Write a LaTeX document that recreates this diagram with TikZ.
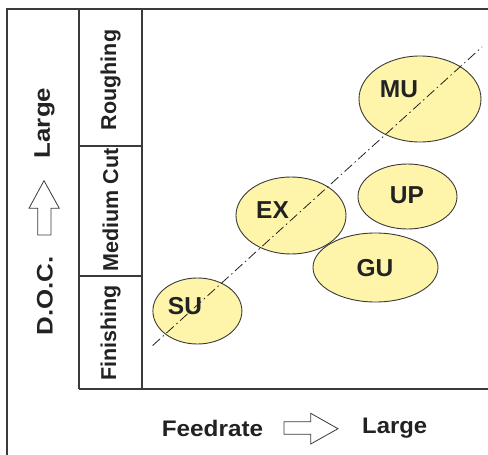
\documentclass[tikz,border=0pt]{standalone}
\usepackage{fontspec}
\setmainfont{Liberation Sans}
\usetikzlibrary{shapes.geometric}
\definecolor{framegray}{HTML}{3A3A3A}
\definecolor{ellfill}{HTML}{FFF5AA}
\definecolor{txtdark}{HTML}{222222}
\tikzset{
  frameline/.style={draw=framegray, line width=1.3pt},
  zone/.style={draw=framegray, line width=0.9pt, fill=ellfill, ellipse, inner sep=0pt},
  elltext/.style={font=\fontsize{24.5}{24.5}\selectfont\bfseries, text=txtdark, inner sep=0pt},
  axtext/.style={font=\fontsize{21.5}{21.5}\selectfont\bfseries, text=txtdark, inner sep=0pt},
  bigtext/.style={font=\fontsize{22.5}{22.5}\selectfont\bfseries, text=txtdark, inner sep=0pt},
  hollowarrow/.style={draw=framegray, line width=0.8pt, fill=white},
  trend/.style={draw=txtdark, line width=0.8pt, dash pattern=on 10pt off 3.5pt on 1.5pt off 3.5pt}
}
\begin{document}
\begin{tikzpicture}[x=1pt,y=-1pt]
\useasboundingbox (0,0) rectangle (488,455);
% frame
\draw[frameline] (7,455) -- (7,9) -- (488,9);
\draw[frameline] (79,9) -- (79,389);
\draw[frameline] (142,9) -- (142,389);
\draw[frameline] (79,146) -- (142,146);
\draw[frameline] (79,276) -- (142,276);
\draw[frameline] (79,389) -- (488,389);
% zone labels
\node[axtext, rotate=90] (rough) at (110.5,80) {Roughing};
\node[axtext, rotate=90] (medium) at (110.5,210) {Medium Cut};
\node[axtext, rotate=90] (finish) at (110.5,333) {Finishing};
% DOC axis
\node[bigtext, rotate=90] (doc) at (45,296) {\scalebox{1.15}[1]{D.O.C.}};
\node[bigtext, rotate=90] (large1) at (44.5,123) {\scalebox{1.15}[1]{Large}};
\draw[hollowarrow] (37.7,235) -- (37.7,208.3) -- (29,208.3) -- (44,180.7) -- (59.3,208.3) -- (51,208.3) -- (51,235) -- cycle;
% Feedrate axis
\node[bigtext] (feed) at (212.5,428) {\scalebox{1.08}[1]{Feedrate}};
\node[bigtext] (large2) at (394.7,428) {\scalebox{1.06}[1]{Large}};
\draw[hollowarrow] (284,421.7) -- (310.7,421.7) -- (310.7,413.3) -- (338,428.7) -- (310.7,444) -- (310.7,434.3) -- (284,434.3) -- cycle;
% ellipses
\node[zone, minimum width=122pt, minimum height=86pt] (mu) at (420,99) {};
\node[zone, minimum width=99pt, minimum height=65pt] (up) at (407.5,196.5) {};
\node[zone, minimum width=110pt, minimum height=77pt] (ex) at (291,215.5) {};
\node[zone, minimum width=125pt, minimum height=69pt] (gu) at (375.5,267.5) {};
\node[zone, minimum width=89pt, minimum height=66pt] (su) at (197.4,311) {};
% trend line
\coordinate (tstart) at (152.7,345.5);
\coordinate (tend) at (482,47);
\draw[trend] (tstart) -- (tend);
% ellipse labels
\node[elltext] (mut) at (399,89) {MU};
\node[elltext] (upt) at (407,195) {UP};
\node[elltext] (ext) at (272.5,210) {EX};
\node[elltext] (gut) at (375,268) {GU};
\node[elltext] (sut) at (185,306) {SU};
\end{tikzpicture}
\end{document}
